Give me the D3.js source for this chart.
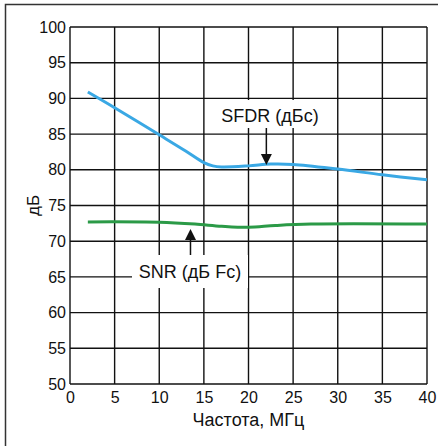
<!DOCTYPE html>
<html>
<head>
<meta charset="utf-8">
<script src="https://cdn.jsdelivr.net/npm/d3@7"></script>
<style>
  body { margin: 0; background: #fff; }
  text { font-family: "Liberation Sans", Arial, sans-serif; fill: #111; }
</style>
</head>
<body>
<div id="chart"></div>
<script>
/* DATA */
const xTicks = [0, 5, 10, 15, 20, 25, 30, 35, 40];
const yTicks = [50, 55, 60, 65, 70, 75, 80, 85, 90, 95, 100];
const sfdrFreq = [2, 5, 10, 13, 15, 16, 17, 20, 22.5, 25, 30, 35, 40];
const sfdrDb = [90.9, 88.7, 84.9, 82.6, 81.0, 80.55, 80.4, 80.55, 80.8, 80.75, 80.1, 79.3, 78.6];
const snrFreq = [2, 10, 14, 17, 20, 23, 27, 40];
const snrDb = [72.7, 72.65, 72.4, 72.1, 71.95, 72.2, 72.4, 72.4];

/* LAYOUT */
const width = 443, height = 446;
const margin = {left: 70, right: 16, top: 27, bottom: 62};

const svg = d3.select("#chart").append("svg")
  .attr("width", width)
  .attr("height", height);

// outer frame (top + left only)
svg.append("path")
  .attr("d", "M5.5,446 V4.5 H438")
  .attr("fill", "none")
  .attr("stroke", "#333")
  .attr("stroke-width", 1.5);

const x = d3.scaleLinear().domain([0, 40]).range([margin.left, width - margin.right]);
const y = d3.scaleLinear().domain([50, 100]).range([height - margin.bottom, margin.top]);

// gridlines
const grid = svg.append("g").attr("stroke", "#111").attr("stroke-width", 1.4);
grid.selectAll(".gx").data(xTicks).join("line")
  .attr("x1", d => x(d)).attr("x2", d => x(d))
  .attr("y1", y(50)).attr("y2", y(100));
grid.selectAll(".gy").data(yTicks).join("line")
  .attr("x1", x(0)).attr("x2", x(40))
  .attr("y1", d => y(d)).attr("y2", d => y(d));

// axes labels via d3 axes (no domain, no ticks)
const xAxis = svg.append("g")
  .attr("transform", `translate(0,${y(50)})`)
  .call(d3.axisBottom(x).tickValues(xTicks).tickSize(0).tickPadding(8));
const yAxis = svg.append("g")
  .attr("transform", `translate(${x(0)},0)`)
  .call(d3.axisLeft(y).tickValues(yTicks).tickSize(0).tickPadding(4));
[xAxis, yAxis].forEach(a => {
  a.select(".domain").remove();
  a.selectAll("text").style("font-size", "16px").attr("fill", "#111")
    .style("font-family", '"Liberation Sans", Arial, sans-serif');
});

svg.append("text")
  .attr("x", (x(0) + x(40)) / 2).attr("y", 426)
  .attr("text-anchor", "middle")
  .style("font-size", "18px")
  .text("Частота, МГц");

svg.append("text")
  .attr("transform", `translate(39,${(y(50) + y(100)) / 2}) rotate(-90)`)
  .attr("text-anchor", "middle")
  .style("font-size", "17px")
  .text("дБ");

// lines
const line = d3.line()
  .x(d => x(d[0]))
  .y(d => y(d[1]))
  .curve(d3.curveCatmullRom);

svg.append("path")
  .datum(sfdrFreq.map((f, i) => [f, sfdrDb[i]]))
  .attr("d", line)
  .attr("fill", "none")
  .attr("stroke", "#3aa8e4")
  .attr("stroke-width", 3);

svg.append("path")
  .datum(snrFreq.map((f, i) => [f, snrDb[i]]))
  .attr("d", line)
  .attr("fill", "none")
  .attr("stroke", "#2b9a47")
  .attr("stroke-width", 3);

// annotations: white boxes, text and arrows
function label(txt, cx, baseline, boxX, boxY, boxW, boxH) {
  svg.append("rect")
    .attr("x", boxX).attr("y", boxY)
    .attr("width", boxW).attr("height", boxH)
    .attr("fill", "#fff");
  svg.append("text")
    .attr("x", cx).attr("y", baseline)
    .attr("text-anchor", "middle")
    .style("font-size", "18px")
    .text(txt);
}
function arrow(ax, yFrom, yTip) {
  const dir = yTip > yFrom ? 1 : -1;
  svg.append("line")
    .attr("x1", ax).attr("x2", ax)
    .attr("y1", yFrom).attr("y2", yTip - dir * 10)
    .attr("stroke", "#111").attr("stroke-width", 1.5);
  svg.append("path")
    .attr("d", `M${ax - 5.5},${yTip - dir * 11} L${ax + 5.5},${yTip - dir * 11} L${ax},${yTip} Z`)
    .attr("fill", "#111");
}

label("SFDR (дБс)", 270, 122, 215, 100, 110, 28);
arrow(x(22), 128, 165);

label("SNR (дБ Fc)", 190, 278, 132, 255, 116, 33);
arrow(x(13.5), 255, 229);
</script>
</body>
</html>
